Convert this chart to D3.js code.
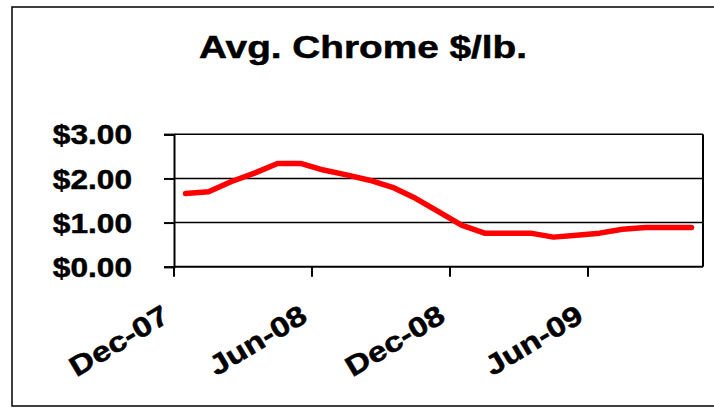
<!DOCTYPE html>
<html>
<head>
<meta charset="utf-8">
<script src="https://cdn.jsdelivr.net/npm/d3@7"></script>
<style>
    body { margin: 0; background: #fff; }
    text { font-family: "Liberation Sans", Arial, sans-serif; font-weight: bold; fill: #000; stroke: #000; stroke-width: 0.5px; }
</style>
</head>
<body>
<div class="LineChart"></div>
<script>
// monthly categories, Dec-07 .. Oct-09
const months = ["Dec-07","Jan-08","Feb-08","Mar-08","Apr-08","May-08","Jun-08","Jul-08","Aug-08","Sep-08",
    "Oct-08","Nov-08","Dec-08","Jan-09","Feb-09","Mar-09","Apr-09","May-09","Jun-09","Jul-09",
    "Aug-09","Sep-09","Oct-09"];
const chromePrice = [1.66, 1.70, 1.93, 2.12, 2.34, 2.34, 2.19, 2.08, 1.96, 1.80,
    1.55, 1.25, 0.94, 0.76, 0.76, 0.76, 0.67, 0.71, 0.76, 0.85,
    0.89, 0.89, 0.89];
const xTickLabels = ["Dec-07", "Jun-08", "Dec-08", "Jun-09"];
const yTicks = [0, 1, 2, 3];
const title = "Avg. Chrome $/lb.";

/* Dimensions */
const width = 714;
const height = 409;
const plot = { left: 174, right: 703, top: 134.3, bottom: 266.7 };

/* Scales */
const xScale = d3.scaleBand()
    .domain(months)
    .range([plot.left, plot.right])
    .padding(0);

const yScale = d3.scaleLinear()
    .domain([0, 3])
    .range([plot.bottom, plot.top]);

/* SVG container */
const svg = d3.select(".LineChart")
    .append("svg")
    .attr("width", width)
    .attr("height", height);

// outer chart border
svg.append("rect")
    .attr("x", 12)
    .attr("y", 7)
    .attr("width", 720)
    .attr("height", 399)
    .attr("fill", "none")
    .attr("stroke", "#000")
    .attr("stroke-width", 1.5);

// gridlines
svg.append("g")
    .selectAll("line")
    .data(yTicks.slice(1))
    .enter()
    .append("line")
    .attr("x1", plot.left)
    .attr("x2", plot.right)
    .attr("y1", d => yScale(d))
    .attr("y2", d => yScale(d))
    .attr("stroke", "#000")
    .attr("stroke-width", 1.5);

// plot frame (right side)
svg.append("line")
    .attr("x1", plot.right).attr("x2", plot.right)
    .attr("y1", plot.top).attr("y2", plot.bottom)
    .attr("stroke", "#000").attr("stroke-width", 2);

/* Axes */
// Y axis with outward ticks, labels drawn below
svg.append("g")
    .attr("transform", `translate(${plot.left},0)`)
    .call(d3.axisLeft(yScale).tickValues(yTicks).tickSize(10).tickFormat(""))
    .call(g => g.selectAll("path, line").attr("stroke", "#000").attr("stroke-width", 2));

svg.append("g")
    .selectAll("text")
    .data(yTicks)
    .enter()
    .append("text")
    .attr("transform", d => `translate(${plot.left - 42},${yScale(d)}) scale(1.13,1)`)
    .attr("dy", "0.36em")
    .attr("text-anchor", "end")
    .style("font-size", "28px")
    .text(d3.format("$.2f"));

// X axis: ticks on category boundaries, every 6 months
const half = xScale.bandwidth() / 2;
svg.append("g")
    .attr("transform", `translate(${-half},${plot.bottom})`)
    .call(d3.axisBottom(xScale).tickValues(xTickLabels).tickSize(10).tickSizeOuter(0).tickFormat(""))
    .call(g => g.select(".domain").remove())
    .call(g => g.selectAll("line").attr("stroke", "#000").attr("stroke-width", 2));

svg.append("line")
    .attr("x1", plot.left).attr("x2", plot.right)
    .attr("y1", plot.bottom).attr("y2", plot.bottom)
    .attr("stroke", "#000").attr("stroke-width", 2);

svg.append("g")
    .selectAll("text")
    .data(xTickLabels)
    .enter()
    .append("text")
    .attr("transform", d => `translate(${xScale(d) - 3},${plot.bottom + 54}) rotate(-31) scale(1.2,1)`)
    .attr("text-anchor", "end")
    .style("font-size", "28px")
    .text(d => d);

/* Line */
const priceLine = d3.line()
    .x((d, i) => xScale(months[i]) + half)
    .y(d => yScale(d));

svg.append("path")
    .datum(chromePrice)
    .attr("fill", "none")
    .attr("stroke", "#ff0000")
    .attr("stroke-width", 5.5)
    .attr("stroke-linejoin", "round")
    .attr("stroke-linecap", "round")
    .attr("d", priceLine);

// Title
svg.append("text")
    .attr("transform", `translate(363,57.5) scale(1.25,1)`)
    .attr("text-anchor", "middle")
    .style("font-size", "31px")
    .text(title);
</script>
</body>
</html>
